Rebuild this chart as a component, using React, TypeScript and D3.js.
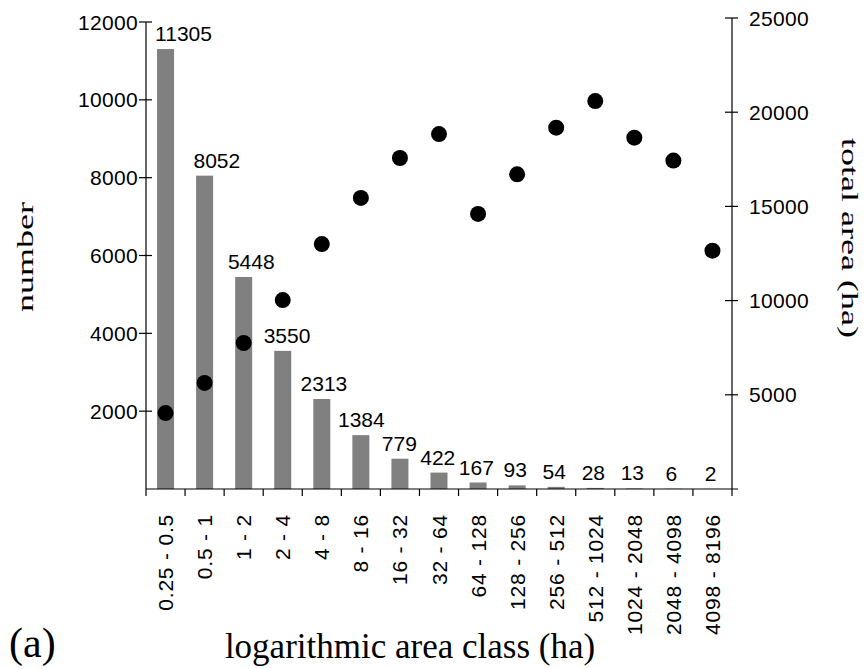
import React from 'react';
import * as d3 from 'd3';

// area classes (ha)
const categories = [
  '0.25 - 0.5', '0.5 - 1', '1 - 2', '2 - 4', '4 - 8', '8 - 16', '16 - 32', '32 - 64',
  '64 - 128', '128 - 256', '256 - 512', '512 - 1024', '1024 - 2048', '2048 - 4098', '4098 - 8196'
];
// number of patches per class (bars)
const counts = [11305, 8052, 5448, 3550, 2313, 1384, 779, 422, 167, 93, 54, 28, 13, 6, 2];
// total area per class (dots, right axis)
const totalArea = [4030, 5630, 7750, 10030, 13000, 15450, 17570, 18840, 14600, 16700, 19180, 20590, 18650, 17430, 12650];

const leftTicks = [2000, 4000, 6000, 8000, 10000, 12000];
const rightTicks = [5000, 10000, 15000, 20000, 25000];

const W = 865;
const H = 669;
const sans = '"Liberation Sans", Arial, Helvetica, sans-serif';
const serif = '"Liberation Serif", "Times New Roman", serif';

export default function App() {
  const left = 146;
  const right = 732;
  const bottom = 489;

  const x = d3.scaleBand<string>().domain(categories).range([left, right]).padding(0);
  const yLeft = d3.scaleLinear().domain([0, 12000]).range([bottom, 22]);
  const yRight = d3.scaleLinear().domain([0, 25000]).range([bottom, 18]);

  const barW = 17;
  const bw = x.bandwidth();
  const maxCount = d3.max(counts) || 1;

  // band boundaries for x ticks
  const boundaries = categories.map(c => x(c)!).concat([right]);

  return (
    <svg width={W} height={H} style={{ position: 'absolute', left: 0, top: 0, background: '#fff' }}>
      {/* bars */}
      {counts.map((v, i) => {
        const cx = x(categories[i])! + bw / 2;
        return (
          <rect key={'b' + i} x={cx - barW / 2} y={yLeft(v)} width={barW}
            height={bottom - yLeft(v)} fill="#808080" />
        );
      })}

      {/* bar labels */}
      {counts.map((v, i) => {
        const cx = x(categories[i])! + bw / 2;
        const dx = 20 * v / maxCount - 2;
        return (
          <text key={'l' + i} x={cx + dx} y={yLeft(v) - 8} textAnchor="middle"
            fontFamily={sans} fontSize={21} fill="#000">{v}</text>
        );
      })}

      {/* dots */}
      {totalArea.map((v, i) => (
        <circle key={'d' + i} cx={x(categories[i])! + bw / 2} cy={yRight(v)} r={8} fill="#000" />
      ))}

      {/* x axis */}
      <line x1={left} x2={right + 6} y1={bottom} y2={bottom} stroke="#000" strokeWidth={1.2} />
      {boundaries.map((b, i) => (
        <line key={'xt' + i} x1={b} x2={b} y1={bottom} y2={bottom + 7} stroke="#000" strokeWidth={1.2} />
      ))}
      {categories.map((c, i) => {
        const cx = x(c)! + bw / 2;
        return (
          <text key={'xl' + i} transform={`translate(${cx},514) rotate(-90)`} textAnchor="end"
            dy="0.36em" fontFamily={sans} fontSize={21} letterSpacing={0.8} fill="#000">{c}</text>
        );
      })}

      {/* left axis */}
      <line x1={left} x2={left} y1={yLeft(12000)} y2={bottom} stroke="#000" strokeWidth={1.2} />
      {leftTicks.map(t => (
        <g key={'lt' + t}>
          <line x1={left - 7} x2={left + 6} y1={yLeft(t)} y2={yLeft(t)} stroke="#000" strokeWidth={1.2} />
          <text x={left - 8} y={yLeft(t)} dy="0.36em" textAnchor="end"
            fontFamily={sans} fontSize={21} letterSpacing={0.3} fill="#000">{t}</text>
        </g>
      ))}

      {/* right axis */}
      <line x1={right} x2={right} y1={yRight(25000)} y2={bottom} stroke="#000" strokeWidth={1.2} />
      {rightTicks.map(t => (
        <g key={'rt' + t}>
          <line x1={right - 7} x2={right + 6} y1={yRight(t)} y2={yRight(t)} stroke="#000" strokeWidth={1.2} />
          <text x={right + 17} y={yRight(t)} dy="0.36em" textAnchor="start"
            fontFamily={sans} fontSize={21} letterSpacing={0.3} fill="#000">{t}</text>
        </g>
      ))}

      {/* axis titles */}
      <text transform="translate(33,257) rotate(-90)" textAnchor="middle" fontFamily={serif}
        fontSize={24} textLength={110} lengthAdjust="spacingAndGlyphs" fill="#000">number</text>
      <text transform="translate(842,238) rotate(90)" textAnchor="middle" fontFamily={serif}
        fontSize={24} textLength={200} lengthAdjust="spacingAndGlyphs" fill="#000">total area (ha)</text>
      <text x={410} y={658} textAnchor="middle" fontFamily={serif} fontSize={35} fill="#000">
        logarithmic area class (ha)
      </text>
      <text x={9} y={657} fontFamily={serif} fontSize={42} fill="#000">(a)</text>
    </svg>
  );
}
